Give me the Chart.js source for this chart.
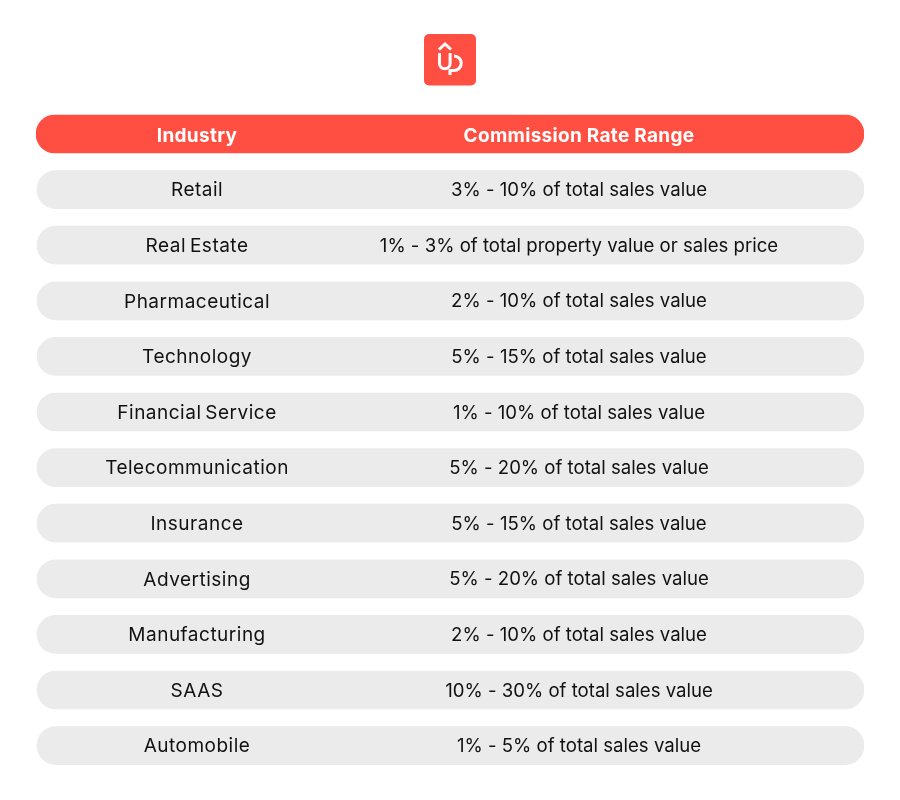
<!DOCTYPE html>
<html><head><meta charset="utf-8">
<style>html,body{margin:0;padding:0;background:#fff}#w{position:relative;width:900px;height:800px}canvas{position:absolute;left:0;top:0}svg{position:absolute;left:424px;top:34px}</style>
<script src="https://cdn.jsdelivr.net/npm/chart.js@4"></script></head>
<body><div id="w"><canvas id="c" width="900" height="800"></canvas>
<svg width="52" height="52" viewBox="0 0 52 52"><rect width="52" height="51.5" rx="5" fill="#ff4f43"/>
<g fill="none" stroke="#fff" stroke-width="3"><path d="M15 15.5 L21 10 L27 15.5"/><path d="M15.5 19 V29.5 a5.3 5.3 0 0 0 10.6 0 V19"/><path d="M26 41 V36.5 H30 a6.8 6.8 0 0 0 0 -14.5" /></g></svg></div>
<script>
const headers = ["Industry", "Commission Rate Range"];
const industries = ["Retail","Real Estate","Pharmaceutical","Technology","Financial Service","Telecommunication","Insurance","Advertising","Manufacturing","SAAS","Automobile"];
const rates = ["3% - 10% of total sales value","1% - 3% of total property value or sales price","2% - 10% of total sales value","5% - 15% of total sales value","1% - 10% of total sales value","5% - 20% of total sales value","5% - 15% of total sales value","5% - 20% of total sales value","2% - 10% of total sales value","10% - 30% of total sales value","1% - 5% of total sales value"];
const rowSpans = [[0,1],[0.0012,1],[0.0012,1],[0.0012,1],[0.0012,1],[0.0012,1],[0.0012,1],[0.0012,1],[0.0012,1],[0.0012,1],[0.0012,1],[0.0012,1]];
const rowColors = ["#ff4f43","#ebebeb","#ebebeb","#ebebeb","#ebebeb","#ebebeb","#ebebeb","#ebebeb","#ebebeb","#ebebeb","#ebebeb","#ebebeb"];
const FONT = "Inter";
const textPlugin = {id:"cells", afterDatasetsDraw(chart){
  const {ctx,scales:{x,y}} = chart;
  const col1 = x.getPixelForValue(0.1945), col2 = x.getPixelForValue(0.6558);
  ctx.save(); ctx.textAlign="center"; ctx.textBaseline="middle";
  chart.data.labels.forEach((lab,i)=>{
    const py = y.getPixelForValue(i);
    if(i===0){
      ctx.fillStyle="#fff";ctx.font=`700 19px ${FONT}`;ctx.letterSpacing="0.3px";ctx.wordSpacing="0px";
      ctx.fillText(lab,col1,py+2);
      ctx.fillText(headers[1],col2,py+2);
    } else {
      ctx.fillStyle="#111";ctx.font=`400 19px ${FONT}`;ctx.letterSpacing="0.5px";ctx.wordSpacing="-2px";
      ctx.fillText(lab,col1,py+1);
      ctx.font=`400 18.6px ${FONT}`;ctx.letterSpacing="0px";ctx.wordSpacing="0px";
      ctx.fillText(rates[i-1],col2,py+1);
    }
  });
  ctx.restore();
}};
new Chart(document.getElementById("c"),{type:"bar",
 data:{labels:[headers[0],...industries],datasets:[{data:rowSpans,backgroundColor:rowColors,barThickness:38,borderRadius:19,borderSkipped:false}]},
 options:{indexAxis:"y",responsive:false,animation:false,layout:{padding:{left:36,right:36,top:106.2,bottom:26.6}},
  scales:{x:{display:false,min:0,max:1},y:{display:false}},
  plugins:{legend:{display:false},tooltip:{enabled:false}}},
 plugins:[textPlugin]});
</script></body></html>
